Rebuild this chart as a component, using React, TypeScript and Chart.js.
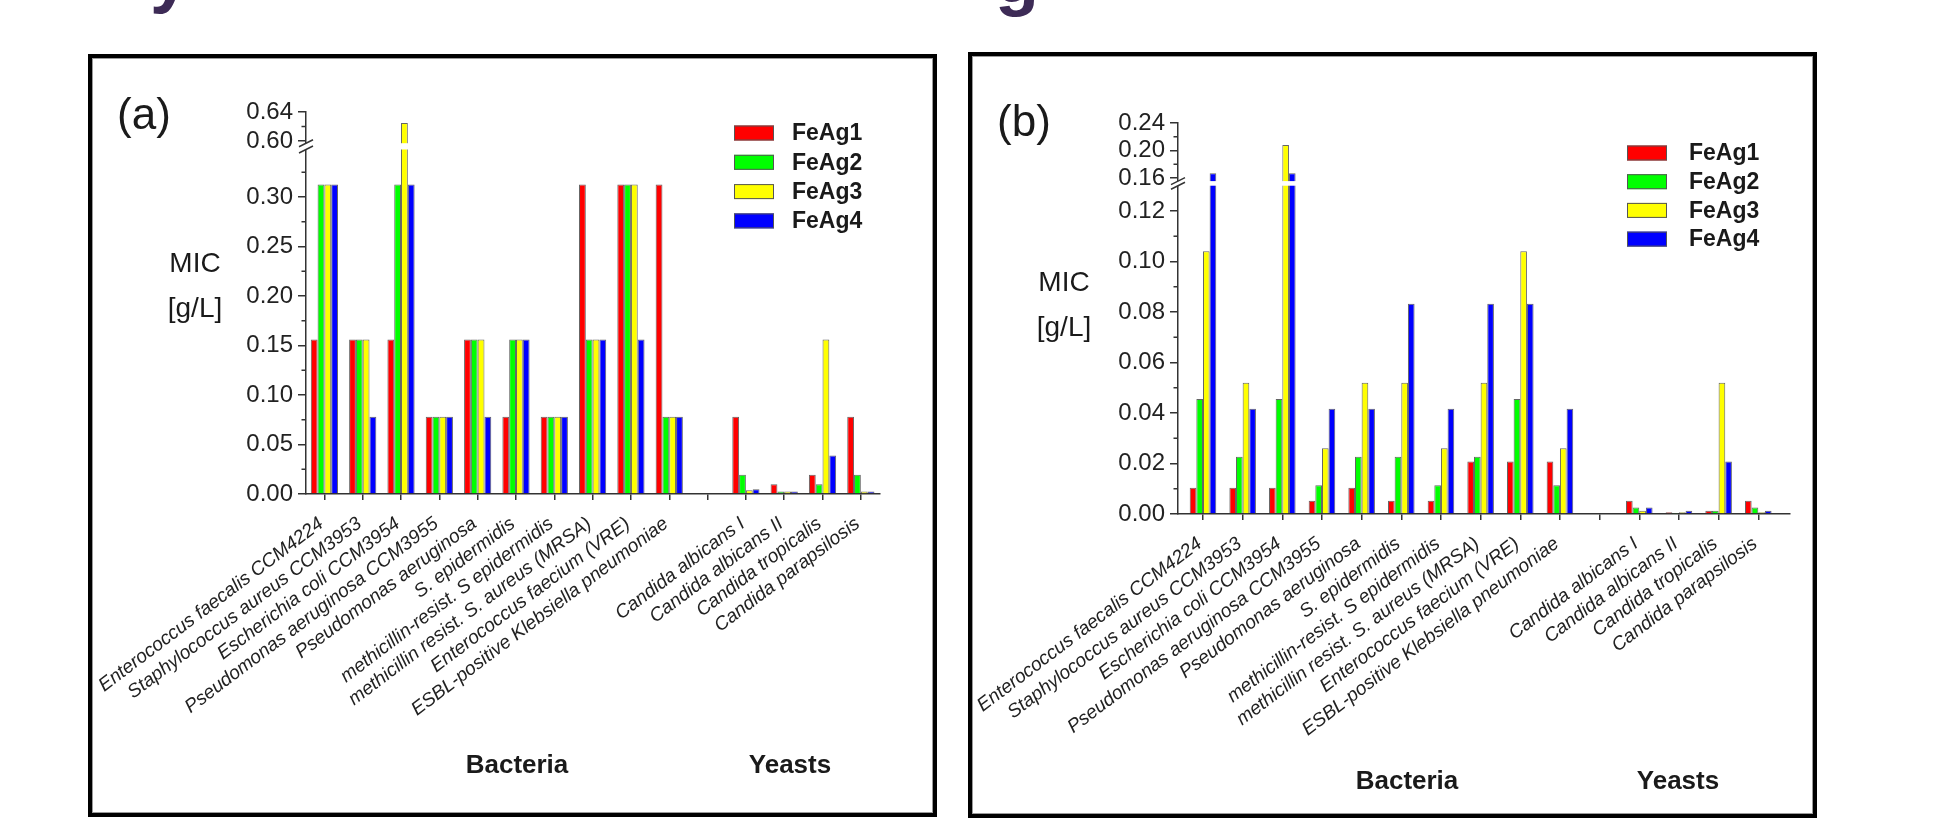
import React, { useEffect, useRef } from 'react';
import { Chart, registerables, LinearScale } from 'chart.js';

// ---------------- DATA ----------------
const categories = [
  'Enterococcus faecalis CCM4224',
  'Staphylococcus aureus CCM3953',
  'Escherichia coli CCM3954',
  'Pseudomonas aeruginosa CCM3955',
  'Pseudomonas aeruginosa',
  'S. epidermidis',
  'methicillin-resist. S epidermidis',
  'methicillin resist. S. aureus (MRSA)',
  'Enterococcus faecium (VRE)',
  'ESBL-positive Klebsiella pneumoniae',
  '',
  'Candida albicans I',
  'Candida albicans II',
  'Candida tropicalis',
  'Candida parapsilosis',
];
const seriesNames = ['FeAg1', 'FeAg2', 'FeAg3', 'FeAg4'];
const seriesColors = ['#ff0000', '#00ff00', '#ffff00', '#0000ff'];

// panel (a) MIC [g/L]
const micA_FeAg1 = [0.156, 0.156, 0.156, 0.078, 0.156, 0.078, 0.078, 0.3125, 0.3125, 0.3125, null, 0.078, 0.0098, 0.0195, 0.078];
const micA_FeAg2 = [0.3125, 0.156, 0.3125, 0.078, 0.156, 0.156, 0.078, 0.156, 0.3125, 0.078, null, 0.0195, 0.0024, 0.0098, 0.0195];
const micA_FeAg3 = [0.3125, 0.156, 0.625, 0.078, 0.156, 0.156, 0.078, 0.156, 0.3125, 0.078, null, 0.0039, 0.0024, 0.156, 0.0024];
const micA_FeAg4 = [0.3125, 0.078, 0.3125, 0.078, 0.078, 0.156, 0.078, 0.156, 0.156, 0.078, null, 0.0049, 0.0024, 0.039, 0.0024];

// panel (b) MIC [g/L]
const micB_FeAg1 = [0.0104, 0.0104, 0.0104, 0.0052, 0.0104, 0.0052, 0.0052, 0.0208, 0.0208, 0.0208, null, 0.0052, 0.0007, 0.0013, 0.0052];
const micB_FeAg2 = [0.0455, 0.0227, 0.0455, 0.0114, 0.0227, 0.0227, 0.0114, 0.0227, 0.0455, 0.0114, null, 0.0026, 0.0004, 0.0013, 0.0026];
const micB_FeAg3 = [0.104, 0.052, 0.208, 0.026, 0.052, 0.052, 0.026, 0.052, 0.104, 0.026, null, 0.0013, 0.0007, 0.052, 0.0007];
const micB_FeAg4 = [0.167, 0.0417, 0.167, 0.0417, 0.0417, 0.0833, 0.0417, 0.0833, 0.0833, 0.0417, null, 0.0026, 0.0013, 0.0208, 0.0013];

const yTicksA = [0, 0.05, 0.1, 0.15, 0.2, 0.25, 0.3, 0.6, 0.64];
const yMinorA = [0.025, 0.075, 0.125, 0.175, 0.225, 0.275, 0.325, 0.62];
const yTicksB = [0, 0.02, 0.04, 0.06, 0.08, 0.1, 0.12, 0.16, 0.2, 0.24];
const yMinorB = [0.01, 0.03, 0.05, 0.07, 0.09, 0.11, 0.18, 0.22];

const groupNames = ['Bacteria', 'Yeasts'];

// ---------------- BROKEN AXIS SCALE ----------------
class BrokenLinearScale extends LinearScale {
  static id = 'brokenLinear';
  _brkDec(v: number): number {
    const b = (this.options as any).brk;
    const min = this.min;
    const max = this.max;
    if (!b) return (v - min) / (max - min);
    if (v <= b.lowMax) return ((v - min) / (b.lowMax - min)) * b.lowFrac;
    if (v >= b.highMin) return b.highFrac + ((v - b.highMin) / (max - b.highMin)) * (1 - b.highFrac);
    return b.lowFrac + ((v - b.lowMax) / (b.highMin - b.lowMax)) * (b.highFrac - b.lowFrac);
  }
  getPixelForValue(value: any) {
    if (value === null || value === undefined || Number.isNaN(value)) return NaN;
    return this.getPixelForDecimal(this._brkDec(value));
  }
  getValueForPixel(pixel: number) {
    const d = this.getDecimalForPixel(pixel);
    const b = (this.options as any).brk;
    const min = this.min;
    const max = this.max;
    if (!b) return min + d * (max - min);
    if (d <= b.lowFrac) return min + (d / b.lowFrac) * (b.lowMax - min);
    if (d >= b.highFrac) return b.highMin + ((d - b.highFrac) / (1 - b.highFrac)) * (max - b.highMin);
    return b.lowMax + ((d - b.lowFrac) / (b.highFrac - b.lowFrac)) * (b.highMin - b.lowMax);
  }
}

Chart.register(...registerables, BrokenLinearScale as any);

const FONT = "'Liberation Sans', Arial, sans-serif";

// ---------------- PANEL LAYOUT ----------------
const panelA = {
  key: 'a',
  tag: '(a)',
  box: { left: 88, top: 54, width: 849, height: 763, border: 4 },
  plot: { left: 306, right: 880, top: 112, bottom: 494 },
  yMax: 0.64,
  yTicks: yTicksA,
  yMinor: yMinorA,
  brk: { lowMax: 0.348, highMin: 0.597, lowFrac: 0.9019, highFrac: 0.9183 },
  xMin: 0.52,
  xMax: 15.5,
  groupFrac: 0.71,
  series: [micA_FeAg1, micA_FeAg2, micA_FeAg3, micA_FeAg4],
  legend: { swatchX: 734, swatchW: 40, swatchH: 15, firstRowY: 133, rowH: 29.3, textX: 792 },
  xLabel: { dx: 0, dy: 32, angle: 37, size: 19 },
  tagPos: [144, 114],
  micPos: [195, 263],
  unitPos: [195, 308],
  groupPos: [[517, 764], [790, 764]],
};

const panelB = {
  key: 'b',
  tag: '(b)',
  box: { left: 968, top: 52, width: 849, height: 766, border: 4 },
  plot: { left: 1178, right: 1790, top: 123, bottom: 514 },
  yMax: 0.24,
  yTicks: yTicksB,
  yMinor: yMinorB,
  brk: { lowMax: 0.13, highMin: 0.1555, lowFrac: 0.8396, highFrac: 0.8514 },
  xMin: 0.37,
  xMax: 15.8,
  groupFrac: 0.67,
  series: [micB_FeAg1, micB_FeAg2, micB_FeAg3, micB_FeAg4],
  legend: { swatchX: 1627, swatchW: 40, swatchH: 15, firstRowY: 153, rowH: 28.7, textX: 1689 },
  xLabel: { dx: 0, dy: 32, angle: 37, size: 19 },
  tagPos: [1024, 121],
  micPos: [1064, 282],
  unitPos: [1064, 327],
  groupPos: [[1407, 780], [1678, 780]],
};

const panels = [panelA, panelB];

function canvasOrigin(p: any) {
  return { x: p.box.left + p.box.border, y: p.box.top + p.box.border, w: p.box.width - 2 * p.box.border, h: p.box.height - 2 * p.box.border };
}

function makeChart(canvas: HTMLCanvasElement, p: any) {
  const o = canvasOrigin(p);
  const W = o.w;
  const H = o.h;
  const plotL = p.plot.left - o.x;
  const plotR = p.plot.right - o.x;
  const plotT = p.plot.top - o.y;
  const plotB = p.plot.bottom - o.y;

  const decorPlugin = {
    id: 'decor_' + p.key,
    afterDatasetsDraw(chart: any) {
      const ctx = chart.ctx;
      const ys = chart.scales.y;
      const area = chart.chartArea;
      const ax = area.left;
      const yLo = ys.getPixelForValue(p.brk.lowMax);
      const yHi = ys.getPixelForValue(p.brk.highMin);
      ctx.save();
      ctx.fillStyle = '#ffffff';
      ctx.fillRect(ax - 2, yHi, area.right - ax + 4, yLo - yHi);
      ctx.strokeStyle = '#333';
      ctx.lineWidth = 1.5;
      for (const yy of [yLo, yHi]) {
        ctx.beginPath();
        ctx.moveTo(ax - 7, yy + 3.5);
        ctx.lineTo(ax + 7, yy - 3.5);
        ctx.stroke();
      }
      for (const v of p.yMinor) {
        const py = ys.getPixelForValue(v);
        ctx.beginPath();
        ctx.moveTo(ax - 4.5, py);
        ctx.lineTo(ax, py);
        ctx.stroke();
      }
      ctx.restore();
    },
    afterDraw(chart: any) {
      const ctx = chart.ctx;
      const L = p.legend;
      const area = chart.chartArea;
      ctx.save();
      // legend, built from the datasets
      chart.data.datasets.forEach((ds: any, i: number) => {
        const cy = L.firstRowY + i * L.rowH - o.y;
        const sx = L.swatchX - o.x;
        ctx.fillStyle = ds.backgroundColor;
        ctx.fillRect(sx, cy - L.swatchH / 2, L.swatchW, L.swatchH);
        ctx.strokeStyle = '#555';
        ctx.lineWidth = 1;
        ctx.strokeRect(sx + 0.5, cy - L.swatchH / 2 + 0.5, L.swatchW - 1, L.swatchH - 1);
        ctx.fillStyle = '#1a1a1a';
        ctx.font = `bold 23px ${FONT}`;
        ctx.textBaseline = 'middle';
        ctx.textAlign = 'left';
        ctx.fillText(ds.label, L.textX - o.x, cy + 1);
      });
      // rotated category labels at the x-scale ticks
      const xs = chart.scales.x;
      const XL = p.xLabel;
      ctx.fillStyle = '#222';
      ctx.font = `italic ${XL.size}px ${FONT}`;
      ctx.textAlign = 'right';
      ctx.textBaseline = 'alphabetic';
      xs.ticks.forEach((t: any) => {
        const label = categories[Math.round(t.value) - 1];
        if (!label) return;
        const px = xs.getPixelForValue(t.value);
        ctx.save();
        ctx.translate(px + XL.dx, area.bottom + XL.dy);
        ctx.rotate((-XL.angle * Math.PI) / 180);
        ctx.fillText(label, 0, 0);
        ctx.restore();
      });
      ctx.restore();
    },
  };

  return new Chart(canvas, {
    type: 'bar',
    data: {
      datasets: seriesNames.map((name, i) => ({
        label: name,
        data: p.series[i].map((v: any, k: number) => ({ x: k + 1, y: v })),
        backgroundColor: seriesColors[i],
        borderColor: 'rgba(50,50,50,0.75)',
        borderWidth: 1,
      })),
    },
    options: {
      responsive: false,
      animation: false,
      devicePixelRatio: 1,
      events: [],
      layout: { padding: { left: 0, top: plotT, right: W - plotR, bottom: 0 } },
      datasets: { bar: { categoryPercentage: p.groupFrac, barPercentage: 1, grouped: true } } as any,
      plugins: { legend: { display: false }, tooltip: { enabled: false } },
      scales: {
        x: {
          type: 'linear',
          min: p.xMin,
          max: p.xMax,
          bounds: 'data',
          offset: false,
          afterBuildTicks: (s: any) => {
            s.ticks = categories.map((_, i) => ({ value: i + 1 }));
          },
          afterFit: (s: any) => {
            s.height = H - plotB;
            s.paddingLeft = 0;
            s.paddingRight = 0;
          },
          ticks: { display: false, autoSkip: false },
          grid: { display: true, drawOnChartArea: false, drawTicks: true, tickLength: 6, color: '#333', lineWidth: 1.5, offset: false },
          border: { display: true, color: '#333', width: 1.5 },
        } as any,
        y: {
          type: 'brokenLinear',
          min: 0,
          max: p.yMax,
          bounds: 'data',
          brk: p.brk,
          afterBuildTicks: (s: any) => {
            s.ticks = p.yTicks.map((v: number) => ({ value: v }));
          },
          afterFit: (s: any) => {
            s.width = plotL;
            s.paddingTop = 0;
            s.paddingBottom = 0;
          },
          ticks: {
            padding: 5,
            color: '#222',
            font: { family: FONT, size: 24 },
            callback: (v: any) => Number(v).toFixed(2),
          },
          grid: { display: true, drawOnChartArea: false, drawTicks: true, tickLength: 8, color: '#333', lineWidth: 1.5 },
          border: { display: true, color: '#333', width: 1.5 },
        } as any,
      },
    },
    plugins: [decorPlugin],
  } as any);
}

function Label(props: { pos: number[]; text: string; size: number; bold?: boolean }) {
  return (
    <div
      style={{
        position: 'absolute',
        left: props.pos[0],
        top: props.pos[1],
        transform: 'translate(-50%, -50%)',
        fontFamily: FONT,
        fontSize: props.size,
        fontWeight: props.bold ? 'bold' : 'normal',
        color: '#1a1a1a',
        whiteSpace: 'nowrap',
        lineHeight: 1,
      }}
    >
      {props.text}
    </div>
  );
}

function Panel(props: { p: any; canvasRef: any }) {
  const p = props.p;
  const o = canvasOrigin(p);
  return (
    <>
      <div
        style={{
          position: 'absolute',
          left: p.box.left,
          top: p.box.top,
          width: p.box.width,
          height: p.box.height,
          boxSizing: 'border-box',
          border: `${p.box.border}px solid #000`,
          boxShadow: 'inset 0 0 0 1px #9a9a9a',
          background: '#fff',
        }}
      />
      <canvas
        ref={props.canvasRef}
        width={o.w}
        height={o.h}
        style={{ position: 'absolute', left: o.x, top: o.y, width: o.w, height: o.h }}
      />
      <Label pos={p.tagPos} text={p.tag} size={44} />
      <Label pos={p.micPos} text="MIC" size={28} />
      <Label pos={p.unitPos} text="[g/L]" size={28} />
      {groupNames.map((g, i) => (
        <Label key={g} pos={p.groupPos[i]} text={g} size={26} bold />
      ))}
    </>
  );
}

export default function App() {
  const refA = useRef<HTMLCanvasElement>(null);
  const refB = useRef<HTMLCanvasElement>(null);

  useEffect(() => {
    const charts = [makeChart(refA.current!, panelA), makeChart(refB.current!, panelB)];
    return () => charts.forEach((c) => c.destroy());
  }, []);

  return (
    <div
      style={{
        position: 'absolute',
        left: 0,
        top: 0,
        width: 1944,
        height: 819,
        background: '#fff',
        overflow: 'hidden',
      }}
    >
      <div style={{ position: 'absolute', left: 150, top: -62, fontFamily: FONT, fontSize: 72, fontWeight: 'bold', color: '#3d2b56', lineHeight: '72px' }}>y</div>
      <div style={{ position: 'absolute', left: 995, top: -59, fontFamily: FONT, fontSize: 72, fontWeight: 'bold', color: '#3d2b56', lineHeight: '72px' }}>g</div>
      <Panel p={panels[0]} canvasRef={refA} />
      <Panel p={panels[1]} canvasRef={refB} />
    </div>
  );
}
